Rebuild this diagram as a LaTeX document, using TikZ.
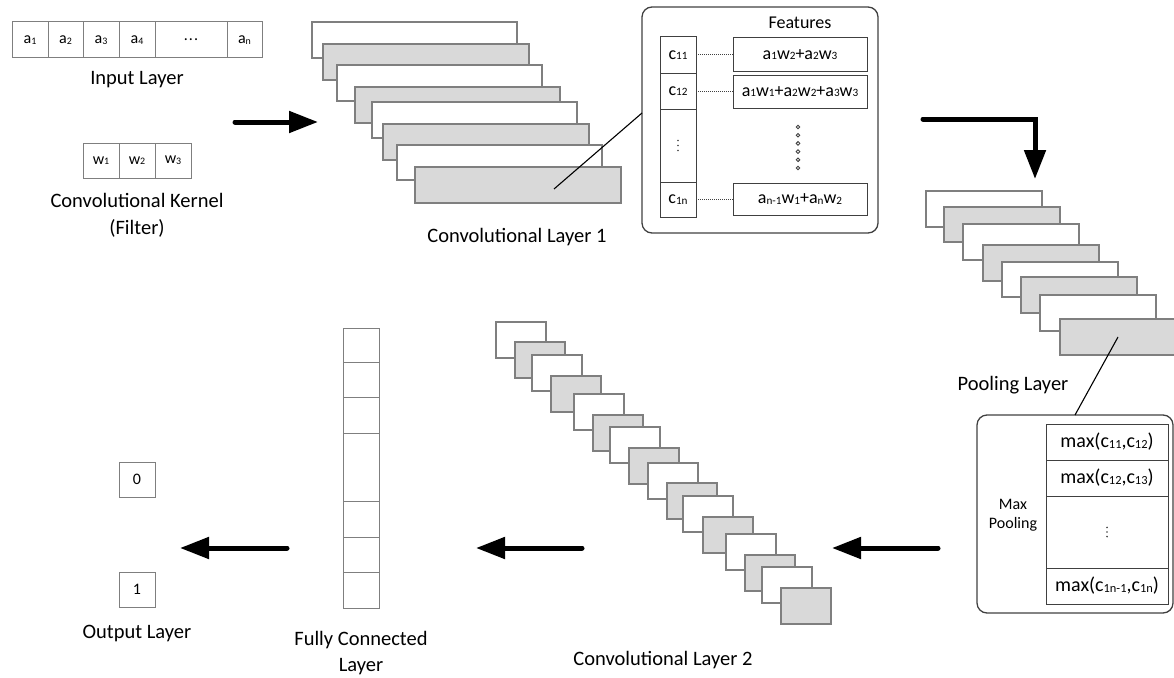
\documentclass[tikz,border=0pt]{standalone}
\usepackage{fontspec}
\setmainfont{Carlito}
\usepackage{graphicx}
\usetikzlibrary{arrows.meta,calc}
\newcommand{\ssub}[1]{\raisebox{-0.6pt}{\scalebox{0.62}{#1}}}
\newcommand{\threedots}{.\kern1pt.\kern1pt.}
\definecolor{bordergray}{HTML}{7F7F7F}
\definecolor{laygray}{HTML}{D9D9D9}
\definecolor{darkline}{HTML}{404040}
\begin{document}
\begin{tikzpicture}[x=1pt,y=-1pt,line join=miter,
  lbl/.style={font=\fontsize{20.5}{27}\selectfont, align=center, inner sep=0},
  cell/.style={draw=bordergray, line width=1pt, inner sep=0, outer sep=0, font=\fontsize{16}{18}\selectfont},
  lay/.style={draw=bordergray, line width=1.1pt, inner sep=0, outer sep=0},
  tcell/.style={draw=darkline, line width=1pt, inner sep=0, outer sep=0, font=\fontsize{18}{20}\selectfont},
  mcell/.style={draw=darkline, line width=1pt, inner sep=0, outer sep=0, font=\fontsize{20}{22}\selectfont},
  rbox/.style={draw=darkline, line width=1.3pt, rounded corners=10pt, inner sep=0, outer sep=0},
  bigarrow/.style={line width=5pt, line cap=round, -{Triangle[length=29pt 0 1,width=21pt 0 1]}},
  thinline/.style={line width=1.1pt, black},
  vdot/.style={fill=darkline, draw=none}
]
\useasboundingbox (0,0) rectangle (1174,677);

% ---------- Input layer ----------
\foreach \a/\c/\t [count=\i] in {12/48/a\ssub{1}, 48/83/a\ssub{2}, 83/119/a\ssub{3}, 119/155/a\ssub{4}, 155/227/\threedots, 227/262/a\ssub{n}}
  \node[cell, minimum width=\c pt-\a pt, minimum height=36pt] (in\i) at ({(\a+\c)/2},40) {\t};
\node[lbl] (inlbl) at (137,80) {Input Layer};

% ---------- Kernel ----------
\foreach \a/\c/\t [count=\i] in {83/119/w\ssub{1}, 119/155/w\ssub{2}, 155/191/w\ssub{3}}
  \node[cell, minimum width=\c pt-\a pt, minimum height=35pt] (k\i) at ({(\a+\c)/2},160.5) {\t};
\node[lbl] (klbl) at (137,215) {Convolutional Kernel\\(Filter)};

% ---------- Conv layer 1 ----------
\foreach \a/\b/\c/\d/\s [count=\i] in {312/22/517/58/white, 323/44/529/80/laygray, 337/65/542/101/white, 355/87/560/123/laygray, 372/102/577/138/white, 383/124/589/160/laygray, 397/145/602/180/white, 415/167/621/203/laygray}
  \node[lay, fill=\s, minimum width=\c pt-\a pt, minimum height=\d pt-\b pt] (ca\i) at ({(\a+\c)/2},{(\b+\d)/2}) {};
\node[lbl] (calbl) at (517,237) {Convolutional Layer 1};

% ---------- Features box ----------
\node[rbox, minimum width=236pt, minimum height=226pt] (feat) at (760,120) {};
\node[font=\fontsize{18}{20}\selectfont, inner sep=0] (featlbl) at (800,23) {Features};
\node[tcell, minimum width=36pt, minimum height=36pt] (c11) at (678,55) {c\ssub{11}};
\node[tcell, minimum width=36pt, minimum height=36pt] (c12) at (678,91) {c\ssub{12}};
\node[tcell, minimum width=36pt, minimum height=73pt] (cdots) at (678,145.5) {};
\foreach \k in {-1,0,1}
  \fill[vdot] ($(cdots.center)+(0,{5*\k})$) circle[radius=0.9pt];
\node[tcell, minimum width=36pt, minimum height=35pt] (c1n) at (678,199.5) {c\ssub{1n}};
\node[tcell, minimum width=134pt, minimum height=33pt] (f1) at (800,54.5) {a\ssub{1}w\ssub{2}+a\ssub{2}w\ssub{3}};
\node[tcell, minimum width=134pt, minimum height=33pt] (f2) at (800,91.5) {a\ssub{1}w\ssub{1}+a\ssub{2}w\ssub{2}+a\ssub{3}w\ssub{3}};
\node[tcell, minimum width=134pt, minimum height=32pt] (fn) at (800,199) {a\ssub{n-1}w\ssub{1}+a\ssub{n}w\ssub{2}};
\draw[densely dotted, line width=1pt, darkline] (c11) -- (f1.west |- c11);
\draw[densely dotted, line width=1pt, darkline] (c12) -- (f2.west |- c12);
\draw[densely dotted, line width=1pt, darkline] (c1n) -- (fn.west |- c1n);
\foreach \k in {0,...,5}
  \draw[darkline, line width=0.9pt] (798,{127+8.2*\k}) circle[radius=1.8pt];
\coordinate (p1) at (554,189);
\draw[thinline] (p1) -- ([yshift=7pt]feat.west);

% ---------- Pooling layer ----------
\foreach \a/\b/\c/\d/\s [count=\i] in {926/191/1042/227/white, 944/207/1060/242/laygray, 963/224/1079/260/white, 983/245/1099/281/laygray, 1002/262/1118/297/white, 1021/277/1137/313/laygray, 1040/295/1156/331/white, 1060/319/1176/355/laygray}
  \node[lay, fill=\s, minimum width=\c pt-\a pt, minimum height=\d pt-\b pt] (pl\i) at ({(\a+\c)/2},{(\b+\d)/2}) {};
\node[lbl] (pllbl) at (1013,385) {Pooling Layer};

% ---------- Max pooling box ----------
\node[rbox, minimum width=196pt, minimum height=198pt] (maxbox) at (1075,514) {};
\node[font=\fontsize{16}{19}\selectfont, align=center, inner sep=0] (maxlbl) at (1013,515) {Max\\Pooling};
\node[mcell, minimum width=122pt, minimum height=36pt] (m1) at (1107,442) {max(c\ssub{11},c\ssub{12})};
\node[mcell, minimum width=122pt, minimum height=36pt] (m2) at (1107,478) {max(c\ssub{12},c\ssub{13})};
\node[mcell, minimum width=122pt, minimum height=72pt] (m3) at (1107,532) {};
\foreach \k in {-1,0,1}
  \fill[vdot] ($(m3.center)+(0,{4.6*\k})$) circle[radius=0.9pt];
\node[mcell, minimum width=122pt, minimum height=36pt] (m4) at (1107,586) {max(c\ssub{1n-1},c\ssub{1n})};
\coordinate (p2) at (1118,337);
\draw[thinline] (p2) -- (maxbox.north);

% ---------- Conv layer 2 ----------
\foreach \a/\b/\s [count=\i] in {496/322/white, 515/342/laygray, 532/355/white, 551/376/laygray, 574/394/white, 593/415/laygray, 610/427/white, 629/448/laygray, 648/463/white, 667/483/laygray, 683/496/white, 703/517/laygray, 726/534/white, 745/555/laygray, 762/567/white, 781/588/laygray}
  \node[lay, fill=\s, minimum width=50pt, minimum height=36pt] (cb\i) at (\a+25,\b+18) {};
\node[lbl] (cblbl) at (663,660) {Convolutional Layer 2};

% ---------- Fully connected ----------
\foreach \a/\b [count=\i] in {328/362, 362/397, 397/433, 433/501, 501/537, 537/572, 572/608}
  \node[cell, minimum width=36pt, minimum height=\b pt-\a pt] (fc\i) at (361,{(\a+\b)/2}) {};
\node[lbl, font=\fontsize{20.5}{26.5}\selectfont] (fclbl) at (361,653) {Fully Connected\\Layer};

% ---------- Output ----------
\node[cell, minimum width=36pt, minimum height=35pt] (o0) at (137,479.5) {0};
\node[cell, minimum width=36pt, minimum height=35pt] (o1) at (137,589.5) {1};
\node[lbl] (olbl) at (137,633) {Output Layer};

% ---------- Big arrows ----------
\coordinate (a1s) at (235,122); \coordinate (a1e) at (318,122);
\draw[bigarrow] (a1s) -- (a1e);
\coordinate (a2s) at (923,119); \coordinate (a2m) at (1035,119); \coordinate (a2e) at (1035,179);
\draw[bigarrow] (a2s) -- (a2m) -- (a2e);
\coordinate (a3s) at (938,548); \coordinate (a3e) at (832,548);
\draw[bigarrow] (a3s) -- (a3e);
\coordinate (a4s) at (582,548); \coordinate (a4e) at (476,548);
\draw[bigarrow] (a4s) -- (a4e);
\coordinate (a5s) at (287,548); \coordinate (a5e) at (180,548);
\draw[bigarrow] (a5s) -- (a5e);
\end{tikzpicture}
\end{document}
